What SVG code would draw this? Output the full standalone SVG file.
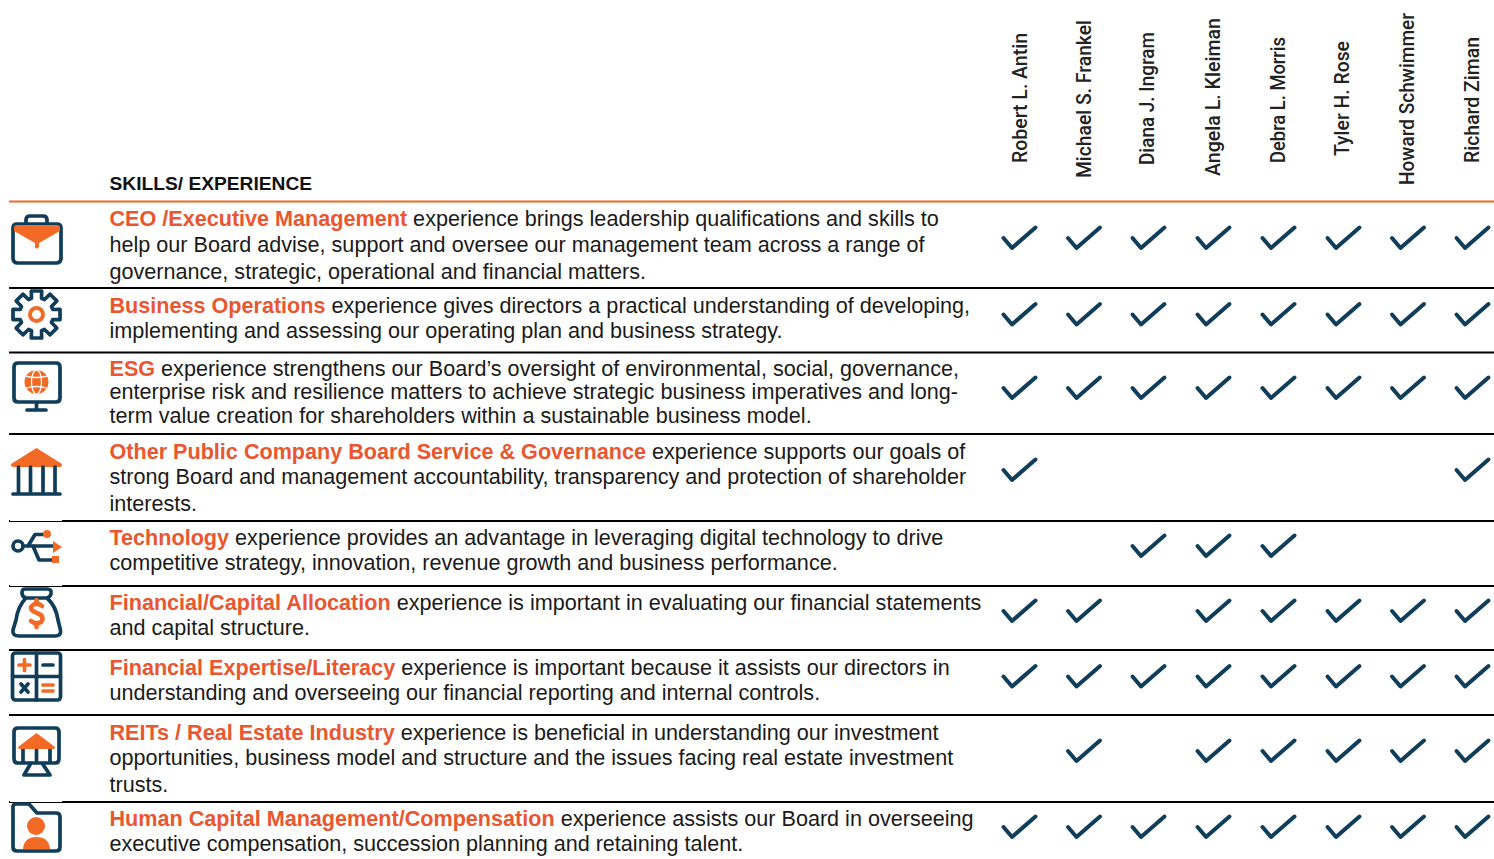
<svg xmlns="http://www.w3.org/2000/svg" width="1494" height="859" viewBox="0 0 1494 859">
<style>
text{font-family:"Liberation Sans",Arial,sans-serif;font-size:21.6px;fill:#1a1a1a}
.h{font-weight:700;fill:#e9562f}
.t{font-weight:700;font-size:19.2px;fill:#111}
.n{font-family:Roboto,"Liberation Sans",sans-serif;font-weight:500;font-size:19.5px;fill:#222}
.r{stroke:#000;stroke-width:2;fill:none}
.s{fill:none;stroke:#0f3d5a;stroke-width:3.700;stroke-linecap:round;stroke-linejoin:round}
.o{fill:#f26a25}
.os{fill:none;stroke:#f26a25;stroke-width:3.700;stroke-linecap:round}
.c{fill:none;stroke:#0f3d5a;stroke-width:4;stroke-linecap:round;stroke-linejoin:round}
</style>
<defs><path id="k" class="c" d="M1003.500 238L1012 248L1035.500 227.500"/></defs>
<g id="header">
<text class="t" x="109.500" y="190">SKILLS/ EXPERIENCE</text>
<text class="n" lengthAdjust="spacingAndGlyphs" textLength="130" transform="translate(1026.500 163) rotate(-90)">Robert L. Antin</text>
<text class="n" lengthAdjust="spacingAndGlyphs" textLength="158" transform="translate(1090.500 178) rotate(-90)">Michael S. Frankel</text>
<text class="n" lengthAdjust="spacingAndGlyphs" textLength="133" transform="translate(1154 165) rotate(-90)">Diana J. Ingram</text>
<text class="n" lengthAdjust="spacingAndGlyphs" textLength="158" transform="translate(1220 176) rotate(-90)">Angela L. Kleiman</text>
<text class="n" lengthAdjust="spacingAndGlyphs" textLength="126" transform="translate(1285 163) rotate(-90)">Debra L. Morris</text>
<text class="n" lengthAdjust="spacingAndGlyphs" textLength="115" transform="translate(1349 156) rotate(-90)">Tyler H. Rose</text>
<text class="n" lengthAdjust="spacingAndGlyphs" textLength="172" transform="translate(1414 185) rotate(-90)">Howard Schwimmer</text>
<text class="n" lengthAdjust="spacingAndGlyphs" textLength="126" transform="translate(1479 163) rotate(-90)">Richard Ziman</text>
</g>
<g id="connectors">
<path d="M9 201.500H1494" stroke="#f26a25" stroke-width="2" fill="none"/>
<path class="r" d="M9 288H1494M9 352.500H1494M9 434H1494M9 521H1494M9 586H1494M9 650H1494M9 715H1494M9 802H1494"/>
<path d="M10 520.500H62M10 585.500H62M10 801.500H62" stroke="#fff" stroke-width="1"/>
</g>
<g id="row1">
<path class="s" d="M26 224V220Q26 216 30 216H43Q47 216 47 220V224M17 224H57Q61 224 61 228V258Q61 263 56 263H18Q13 263 13 258V228Q13 224 17 224Z"/><path class="o" d="M14 228Q14 225 17 225H57Q60 225 60 228V231L39 243V247Q36 250 35 247V243L14 231Z"/>
<text x="109.500" y="226"><tspan class="h">CEO /Executive Management</tspan> experience brings leadership qualifications and skills to</text>
<text x="109.500" y="252">help our Board advise, support and oversee our management team across a range of</text>
<text x="109.500" y="279">governance, strategic, operational and financial matters.</text>
<g id="checks1"><use href="#k"/><use href="#k" x="64.500"/><use href="#k" x="129"/><use href="#k" x="194"/><use href="#k" x="259"/><use href="#k" x="324"/><use href="#k" x="388.500"/><use href="#k" x="453"/></g>
</g>
<g id="row2">
<path class="s" transform="translate(36.500 314.500)" d="M-5 -16.300L-5.200 -23.500H5.200L5 -16.300L8 -15L13.600 -20.300L20.300 -13.600L15 -8L16.300 -5L23.500 -5.200V5.200L16.300 5L15 8L20.300 13.600L13.600 20.300L8 15L5 16.300L5.200 23.500H-5.200L-5 16.300L-8 15L-13.600 20.300L-20.300 13.600L-15 8L-16.300 5L-23.500 5.200V-5.200L-16.300 -5L-15 -8L-20.300 -13.600L-13.600 -20.300L-8 -15Z"/>
<circle cx="36.500" cy="314.500" r="6.500" fill="none" stroke="#f26a25" stroke-width="4"/>
<text x="109.500" y="313"><tspan class="h">Business Operations</tspan> experience gives directors a practical understanding of developing,</text>
<text x="109.500" y="338">implementing and assessing our operating plan and business strategy.</text>
<g id="checks2" transform="translate(0 76.500)"><use href="#k"/><use href="#k" x="64.500"/><use href="#k" x="129"/><use href="#k" x="194"/><use href="#k" x="259"/><use href="#k" x="324"/><use href="#k" x="388.500"/><use href="#k" x="453"/></g>
</g>
<g id="row3">
<path class="s" d="M18 363H56Q60 363 60 367V398Q60 402 56 402H18Q14 402 14 398V367Q14 363 18 363ZM36.500 402V409M27 410H46"/>
<circle class="o" cx="36.500" cy="382" r="12"/>
<path d="M26 376Q36.500 379 47 376M26 388Q36.500 385 47 388" stroke="#fff" stroke-width="1.300" fill="none"/>
<ellipse cx="36.500" cy="382" rx="5" ry="12" fill="none" stroke="#fff" stroke-width="1.300"/>
<text x="109.500" y="376"><tspan class="h">ESG</tspan> experience strengthens our Board’s oversight of environmental, social, governance,</text>
<text x="109.500" y="399">enterprise risk and resilience matters to achieve strategic business imperatives and long-</text>
<text x="109.500" y="423">term value creation for shareholders within a sustainable business model.</text>
<g id="checks3" transform="translate(0 150)"><use href="#k"/><use href="#k" x="64.500"/><use href="#k" x="129"/><use href="#k" x="194"/><use href="#k" x="259"/><use href="#k" x="324"/><use href="#k" x="388.500"/><use href="#k" x="453"/></g>
</g>
<g id="row4">
<path class="o" d="M36.500 448L62 464Q62 467 60 467H13Q11 467 11 464Z"/>
<path class="s" d="M18.500 467V493M30.500 467V493M43 467V493M55 467V493M13 494H60"/>
<text x="109.500" y="459"><tspan class="h">Other Public Company Board Service &amp; Governance</tspan> experience supports our goals of</text>
<text x="109.500" y="484">strong Board and management accountability, transparency and protection of shareholder</text>
<text x="109.500" y="511">interests.</text>
<g id="checks4" transform="translate(0 232)"><use href="#k"/><use href="#k" x="453"/></g>
</g>
<g id="row5">
<circle cx="18" cy="546" r="5" fill="none" stroke="#0f3d5a" stroke-width="3.700"/>
<path class="s" d="M24 546H54M28 546L35 534.500H43M33 546L39 560H52"/>
<circle class="o" cx="47" cy="534" r="4"/><path class="o" d="M53 541L62 547L53 553Z"/><rect class="o" x="52" y="556" width="7" height="7"/>
<text x="109.500" y="545"><tspan class="h">Technology</tspan> experience provides an advantage in leveraging digital technology to drive</text>
<text x="109.500" y="570">competitive strategy, innovation, revenue growth and business performance.</text>
<g id="checks5" transform="translate(0 308)"><use href="#k" x="129"/><use href="#k" x="194"/><use href="#k" x="259"/></g>
</g>
<g id="row6">
<path class="s" d="M25 589H47Q52 589 51 594Q50 597 47 598Q56 606 58 620L60.500 630Q61.500 636 55 636H19Q12 636 13 630L16 620Q18 606 26 598Q22 597 22 593Q22 589 25 589ZM26 598H47"/>
<path d="M42 606Q37 602 33 605Q29 608 33 611L41 615Q44 619 41 622Q36 625 31 621M36.500 600V604M36.500 623V627" fill="none" stroke="#f26a25" stroke-width="4.600" stroke-linecap="round"/>
<text x="109.500" y="610"><tspan class="h">Financial/Capital Allocation</tspan> experience is important in evaluating our financial statements</text>
<text x="109.500" y="635">and capital structure.</text>
<g id="checks6" transform="translate(0 373)"><use href="#k"/><use href="#k" x="64.500"/><use href="#k" x="194"/><use href="#k" x="259"/><use href="#k" x="324"/><use href="#k" x="388.500"/><use href="#k" x="453"/></g>
</g>
<g id="row7">
<rect class="s" x="12.500" y="653" width="48" height="47" rx="3"/>
<path class="s" d="M36.500 653V700M12.500 676.500H60.500"/>
<path d="M19 665H30M24.500 659.500V670.500" fill="none" stroke="#f26a25" stroke-width="3.700" stroke-linecap="round"/>
<path d="M43 665H53M21 684L28 692M28 684L21 692" fill="none" stroke="#0f3d5a" stroke-width="3.700" stroke-linecap="round"/>
<path class="os" d="M43 685H53M43 691H53"/>
<text x="109.500" y="675"><tspan class="h">Financial Expertise/Literacy</tspan> experience is important because it assists our directors in</text>
<text x="109.500" y="700">understanding and overseeing our financial reporting and internal controls.</text>
<g id="checks7" transform="translate(0 438.500)"><use href="#k"/><use href="#k" x="64.500"/><use href="#k" x="129"/><use href="#k" x="194"/><use href="#k" x="259"/><use href="#k" x="324"/><use href="#k" x="388.500"/><use href="#k" x="453"/></g>
</g>
<g id="row8">
<path class="s" d="M18 728H55Q59 728 59 732V759Q59 763 55 763H18Q14 763 14 759V732Q14 728 18 728ZM31 763L24 775H50L42 763"/>
<path class="s" d="M23 748V762M50 748V762"/>
<path d="M36.500 748V762" stroke="#0f3d5a" stroke-width="3.700" fill="none"/>
<path class="o" d="M36.500 733L55 747Q55 749 53 749H20Q18 749 18 747Z"/>
<text x="109.500" y="740"><tspan class="h">REITs / Real Estate Industry</tspan> experience is beneficial in understanding our investment</text>
<text x="109.500" y="765">opportunities, business model and structure and the issues facing real estate investment</text>
<text x="109.500" y="792">trusts.</text>
<g id="checks8" transform="translate(0 513)"><use href="#k" x="64.500"/><use href="#k" x="194"/><use href="#k" x="259"/><use href="#k" x="324"/><use href="#k" x="388.500"/><use href="#k" x="453"/></g>
</g>
<g id="row9">
<path class="s" d="M16 804H29L37 813H56Q60 813 60 817V847Q60 851 56 851H17Q13 851 13 847V807Q13 804 16 804Z"/>
<circle class="o" cx="36" cy="826" r="9"/><path class="o" d="M23 849Q24 837 36.500 837Q49 837 50 849Z"/>
<text x="109.500" y="826"><tspan class="h">Human Capital Management/Compensation</tspan> experience assists our Board in overseeing</text>
<text x="109.500" y="851">executive compensation, succession planning and retaining talent.</text>
<g id="checks9" transform="translate(0 589)"><use href="#k"/><use href="#k" x="64.500"/><use href="#k" x="129"/><use href="#k" x="194"/><use href="#k" x="259"/><use href="#k" x="324"/><use href="#k" x="388.500"/><use href="#k" x="453"/></g>
</g>
</svg>
